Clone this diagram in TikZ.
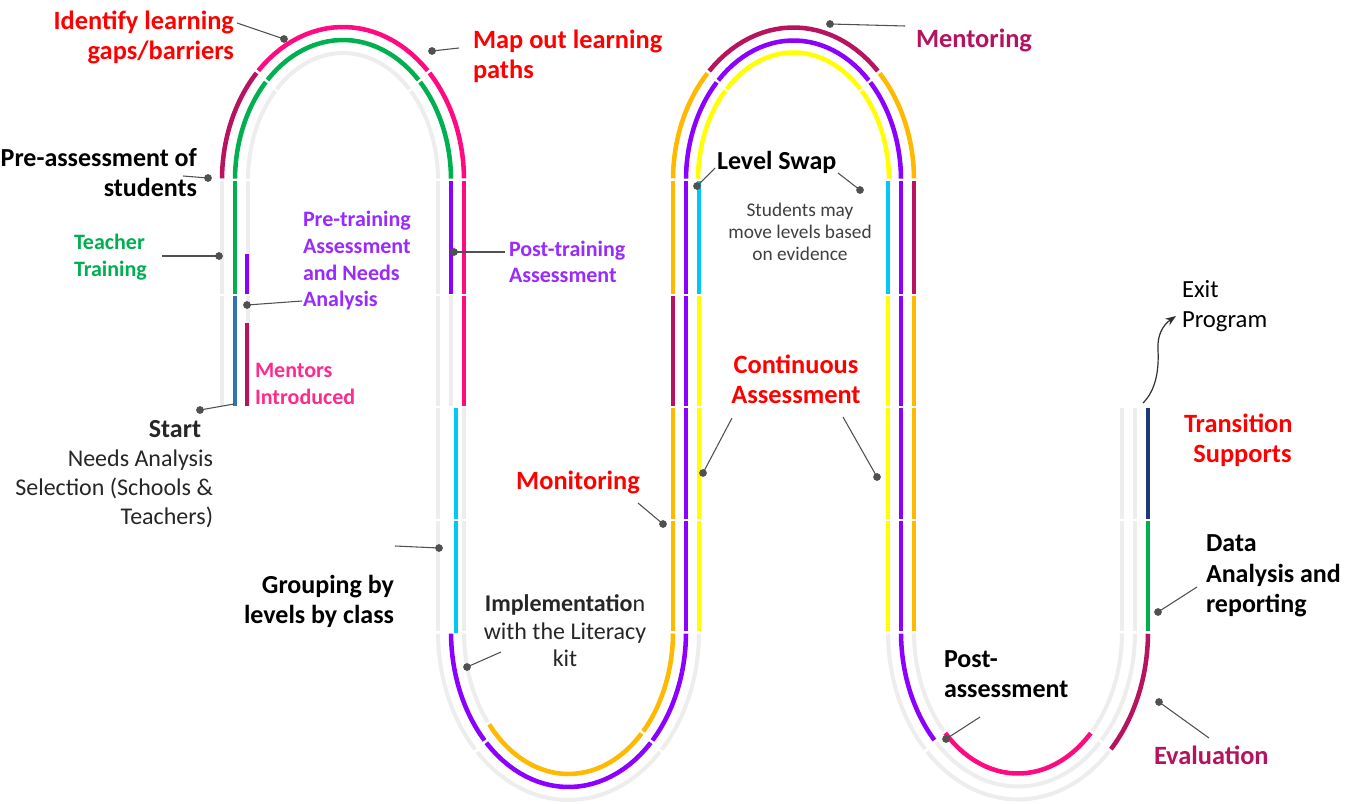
\documentclass[tikz,border=0pt]{standalone}
\usepackage{fontspec}
\setmainfont{Carlito}
\usetikzlibrary{arrows.meta}

\definecolor{trackgrey}{HTML}{EDEDED}
\definecolor{leadgrey}{HTML}{505050}
\definecolor{cMaroon}{HTML}{B8135F}
\definecolor{cPink}{HTML}{FF0A80}
\definecolor{cGreen}{HTML}{00B050}
\definecolor{cPurple}{HTML}{8C00FF}
\definecolor{cBlue}{HTML}{2E75B6}
\definecolor{cCyan}{HTML}{00C8F5}
\definecolor{cOrange}{HTML}{FFB900}
\definecolor{cYellow}{HTML}{FFFF00}
\definecolor{cNavy}{HTML}{1F3A78}
\definecolor{tRed}{HTML}{FF0000}
\definecolor{tMaroon}{HTML}{B5135E}
\definecolor{tPurple}{HTML}{9A2BFF}
\definecolor{tPink}{HTML}{FF2B8C}
\definecolor{tGreen}{HTML}{00B050}
\definecolor{tDark}{HTML}{262626}
\definecolor{tGrey}{HTML}{404040}

% font sizes (1 unit = 0.75pt)
\newcommand\fbig{\fontsize{19.8}{22.5}\selectfont\bfseries}
\newcommand\fmid{\fontsize{16.5}{20}\selectfont\bfseries}
\newcommand\fblk{\fontsize{19.5}{22.5}\selectfont\bfseries}
\newcommand\fsml{\fontsize{14.5}{16.5}\selectfont}

% straight piece of a lane: style, x, y from, y to (small gap at both ends)
\newcommand\vseg[4]{\draw[#1] (#2,#3+1.3) -- (#2,#4-1.3);}
% elliptic piece of a lane: style, cx, cy, rx, ry, angle from, angle to
\newcommand\aseg[7]{%
  \pgfmathsetmacro\segA{#6+0.6}\pgfmathsetmacro\segB{#7-0.6}%
  \draw[#1] plot[domain=\segA:\segB,samples=28,variable=\t]
    ({#2+#4*cos(\t)},{#3-#5*sin(\t)});}

\tikzset{
  trk/.style={draw=trackgrey,line width=3pt},
  lane/.style={line width=3.4pt},
  leader/.style={draw=leadgrey,line width=0.8pt},
  dot/.style={fill=leadgrey},
  lbl/.style={inner sep=0pt,outer sep=0pt},
}

\begin{document}
\begin{tikzpicture}[x=0.75pt,y=-0.75pt,line cap=butt]
\useasboundingbox (0,0) rectangle (1345,803);
\fill[white] (0,0) rectangle (1345,803);

% ---------- column A ----------
\vseg{trk}{222}{180}{295}\vseg{trk}{222}{295}{407}
\vseg{lane,cGreen}{235}{180}{295}\vseg{lane,cBlue}{235}{295}{407}
\vseg{trk}{248}{180}{295}\vseg{trk}{248}{295}{407}
\vseg{lane,cPurple}{247}{253}{295}\vseg{lane,cMaroon}{247}{322}{407}

% ---------- top arch 1 ----------
\aseg{lane,cMaroon}{343}{180}{121}{153}{135}{180}
\aseg{lane,cPink}{343}{180}{121}{153}{45}{135}
\aseg{lane,cPink}{343}{180}{121}{153}{0}{45}
\aseg{lane,cGreen}{343}{180}{108}{140}{135}{180}
\aseg{lane,cGreen}{343}{180}{108}{140}{45}{135}
\aseg{lane,cGreen}{343}{180}{108}{140}{0}{45}
\aseg{trk}{343}{180}{95}{127}{135}{180}
\aseg{trk}{343}{180}{95}{127}{45}{135}
\aseg{trk}{343}{180}{95}{127}{0}{45}

% ---------- column B ----------
\vseg{trk}{438}{180}{295}\vseg{trk}{438}{295}{407}\vseg{trk}{438}{407}{520}\vseg{trk}{438}{520}{632}
\vseg{lane,cPurple}{451}{180}{295}\vseg{trk}{451}{295}{407}
\vseg{lane,cCyan}{456}{407}{520}\vseg{lane,cCyan}{456}{520}{634}
\vseg{lane,cPink}{464}{180}{295}\vseg{lane,cPink}{464}{295}{407}
\vseg{trk}{464}{407}{520}\vseg{trk}{464}{520}{632}

% ---------- bottom arch 1 ----------
\aseg{trk}{568.5}{632}{130.5}{168}{180}{225}
\aseg{trk}{568.5}{632}{130.5}{168}{225}{315}
\aseg{trk}{568.5}{632}{130.5}{168}{315}{360}
\aseg{lane,cPurple}{568.5}{632}{117.5}{155}{180}{225}
\aseg{lane,cPurple}{568.5}{632}{117.5}{155}{225}{315}
\aseg{lane,cPurple}{568.5}{632}{117.5}{155}{315}{360}
\aseg{trk}{568.5}{632}{104.5}{142}{180}{220}
\aseg{lane,cOrange}{568.5}{632}{104.5}{142}{220}{315}
\aseg{lane,cOrange}{568.5}{632}{104.5}{142}{315}{360}

% ---------- column C ----------
\vseg{lane,cOrange}{673}{180}{295}\vseg{lane,cMaroon}{673}{295}{407}
\vseg{lane,cOrange}{673}{407}{520}\vseg{lane,cOrange}{673}{520}{632}
\vseg{lane,cPurple}{686}{180}{295}\vseg{lane,cPurple}{686}{295}{407}
\vseg{lane,cPurple}{686}{407}{520}\vseg{lane,cPurple}{686}{520}{632}
\vseg{lane,cCyan}{699}{180}{295}\vseg{lane,cYellow}{699}{295}{407}
\vseg{lane,cYellow}{699}{407}{520}\vseg{lane,cYellow}{699}{520}{632}

% ---------- top arch 2 ----------
\aseg{lane,cOrange}{793.5}{180}{120.5}{152.5}{135}{180}
\aseg{lane,cMaroon}{793.5}{180}{120.5}{152.5}{45}{135}
\aseg{lane,cOrange}{793.5}{180}{120.5}{152.5}{0}{45}
\aseg{lane,cPurple}{793.5}{180}{107.5}{139.5}{135}{180}
\aseg{lane,cPurple}{793.5}{180}{107.5}{139.5}{45}{135}
\aseg{lane,cPurple}{793.5}{180}{107.5}{139.5}{0}{45}
\aseg{lane,cYellow}{793.5}{180}{95.5}{127.5}{135}{180}
\aseg{lane,cYellow}{793.5}{180}{95.5}{127.5}{45}{135}
\aseg{lane,cYellow}{793.5}{180}{95.5}{127.5}{0}{45}

% ---------- column D ----------
\vseg{lane,cCyan}{888}{180}{295}\vseg{lane,cYellow}{888}{295}{407}
\vseg{lane,cYellow}{888}{407}{520}\vseg{lane,cYellow}{888}{520}{632}
\vseg{lane,cPurple}{901}{180}{295}\vseg{lane,cPurple}{901}{295}{407}
\vseg{lane,cPurple}{901}{407}{520}\vseg{lane,cPurple}{901}{520}{632}
\vseg{lane,cMaroon}{914}{180}{295}\vseg{lane,cOrange}{914}{295}{407}
\vseg{lane,cOrange}{914}{407}{520}\vseg{lane,cOrange}{914}{520}{632}

% ---------- bottom arch 2 ----------
\aseg{trk}{1018}{632}{130}{167.5}{180}{225}
\aseg{trk}{1018}{632}{130}{167.5}{225}{315}
\aseg{lane,cMaroon}{1018}{632}{130}{167.5}{315}{360}
\aseg{lane,cPurple}{1018}{632}{117}{154.5}{180}{225}
\aseg{trk}{1018}{632}{117}{154.5}{225}{315}
\aseg{trk}{1018}{632}{117}{154.5}{315}{360}
\aseg{trk}{1018}{632}{104}{141.5}{180}{225}
\aseg{lane,cPink}{1018}{632}{104}{141.5}{225}{315}
\aseg{trk}{1018}{632}{104}{141.5}{315}{360}

% ---------- column E ----------
\vseg{trk}{1122}{407}{520}\vseg{trk}{1122}{520}{632}
\vseg{trk}{1135}{407}{520}\vseg{trk}{1135}{520}{632}
\vseg{lane,cNavy}{1148}{407}{520}\vseg{lane,cGreen}{1148}{520}{632}

% ---------- labels ----------
\node[lbl,anchor=east,align=right,text=tRed,font=\fbig] (identify) at (234,37) {Identify learning\\gaps/barriers};
\node[lbl,anchor=west,align=left,text=tRed,font=\fbig] (mapout) at (473,56) {Map out learning\\paths};
\node[lbl,anchor=east,align=right,text=black,font=\fblk] (preass) at (197,173) {Pre-assessment of\\students};
\node[lbl,anchor=west,align=left,text=tGreen,font=\fmid] (teacher) at (74,257) {Teacher\\Training};
\node[lbl,anchor=west,align=left,text=tPurple,font=\fmid] (pretrain) at (303,261) {Pre-training\\Assessment\\and Needs\\Analysis};
\node[lbl,anchor=west,align=left,text=tPink,font=\fmid] (mentors) at (255,384) {Mentors\\Introduced};
\node[lbl,anchor=east,align=right,text=tDark,font=\fontsize{18}{21.75}\selectfont] (start) at (213,474)
  {{\fblk Start}\hspace*{9pt}\\Needs Analysis\hspace*{9pt}\\Selection (Schools \&\\Teachers)};
\node[lbl,anchor=west,align=left,text=tPurple,font=\fmid] (posttrain) at (509,262) {Post-training\\Assessment};
\node[lbl,anchor=east,align=right,text=black,font=\fblk] (grouping) at (394,601) {Grouping by\\levels by class};
\node[lbl,align=center,text=tDark,font=\fontsize{18}{20.6}\selectfont] (implement) at (565,631)
  {\textbf{Implementatio}n\\with the Literacy\\kit};
\node[lbl,text=tRed,font=\fbig] (monitor) at (578,482) {Monitoring};
\node[lbl,anchor=west,text=black,font=\fblk] (swap) at (717,162) {Level Swap};
\node[lbl,align=center,text=tGrey,font=\fsml] (students) at (800,232) {Students may\\move levels based\\on evidence};
\node[lbl,align=center,text=tRed,font=\fbig] (contass) at (796,379) {Continuous\\Assessment};
\node[lbl,anchor=west,text=tMaroon,font=\fbig] (mentoring) at (916,40) {Mentoring};
\node[lbl,anchor=west,align=left,text=black,font=\fblk] (postass) at (944,674) {Post-\\assessment};
\node[lbl,anchor=west,text=tMaroon,font=\fbig] (evaluation) at (1154,755) {Evaluation};
\node[lbl,anchor=west,align=left,text=black,font=\fontsize{19.5}{23}\selectfont\bfseries] (data) at (1206,576) {Data\\Analysis and\\reporting};
\node[lbl,anchor=west,align=left,text=tRed,font=\fbig] (transition) at (1184,440) {Transition\\\hspace*{7pt}Supports};
\node[lbl,anchor=west,align=left,text=black,font=\fontsize{18.5}{23}\selectfont] (exitp) at (1182,306) {Exit\\Program};

% ---------- leader lines ----------
\foreach \n/\dx/\dy/\ex/\ey in {
  a/284/39/237/23, b/432/51/459/48, c/208/178/183/176, d/219/256/162/256,
  e/247/305/302/301, f/200/410/234/404, g/454/252/505/252, h/439/548/395/546,
  i/467/667/501/652, j/663/524/638/503, k/697/186/715/168, l/860/190/838/173,
  m/703/473/732/418, n/877/477/843/417, o/830/24/905/26, p/946/739/980/717,
  q/1159/702/1209/738, r/1158/612/1197/587}{
  \coordinate (dot\n) at (\dx,\dy);
  \coordinate (end\n) at (\ex,\ey);
  \draw[leader] (end\n) -- (dot\n);
  \fill[dot] (dot\n) circle[radius=2.9pt];
}

% ---------- exit arrow ----------
\coordinate (exitfrom) at (1143,403);
\coordinate (exitto) at (1176,316);
\draw[leadgrey!60!black,line width=0.9pt,-{Stealth[length=8pt,width=6pt]}]
  (exitfrom) .. controls (1156,390) and (1159,370) .. (1158,350)
  .. controls (1157,335) and (1163,325) .. (exitto);
\end{tikzpicture}
\end{document}
